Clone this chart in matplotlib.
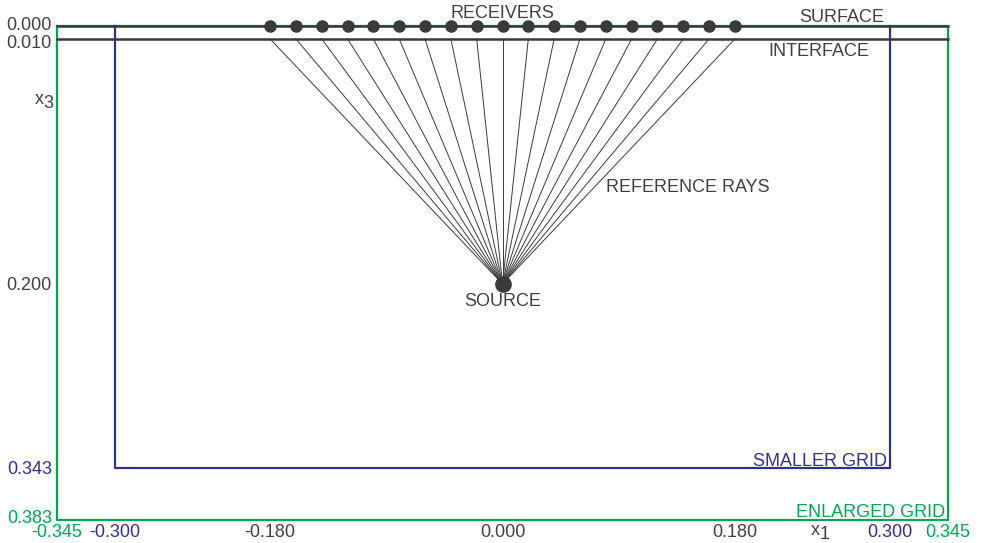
import numpy as np
import matplotlib
matplotlib.use('Agg')
import matplotlib.pyplot as plt

plt.rcParams['font.family'] = ['Liberation Sans', 'DejaVu Sans']

# model geometry (km)
surface_z = 0.000
interface_z = 0.010
receivers_x = [-0.18, -0.16, -0.14, -0.12, -0.10, -0.08, -0.06, -0.04, -0.02, 0.00,
               0.02, 0.04, 0.06, 0.08, 0.10, 0.12, 0.14, 0.16, 0.18]
source_xz = (0.000, 0.200)
small_grid = (-0.300, 0.300, 0.343)
large_grid = (-0.345, 0.345, 0.383)

x_ticks = [-0.345, -0.300, -0.180, 0.000, 0.180, 0.300, 0.345]
x_tick_labels = ['-0.345', '-0.300', '-0.180', '0.000', '0.180', '0.300', '0.345']
z_ticks = [0.000, 0.010, 0.200, 0.343, 0.383]
z_tick_labels = ['0.000', '0.010', '0.200', '0.343', '0.383']

GREEN = '#00a651'
BLUE = '#2e3192'
DARK = '#3a3a3c'
TXT = '#404040'


def tick_color(v):
    if abs(abs(v) - 0.345) < 1e-6 or abs(v - 0.383) < 1e-6:
        return GREEN
    if abs(abs(v) - 0.300) < 1e-6 or abs(v - 0.343) < 1e-6:
        return BLUE
    return TXT


fig = plt.figure(figsize=(9.82, 5.43), dpi=100)
ax = fig.add_axes([57 / 982, 1 - 520 / 543, 891 / 982, 494 / 543])
ax.set_xlim(large_grid[0], large_grid[1])
ax.set_ylim(large_grid[2], 0)
ax.axis('off')

# enlarged grid (green)
x0, x1, zb = large_grid
ax.plot([x0, x0, x1, x1, x0], [0, zb, zb, 0, 0], color=GREEN, lw=1.6, clip_on=False, zorder=1)
# smaller grid (blue)
x0, x1, zb = small_grid
ax.plot([x0, x0, x1, x1], [0, zb, zb, 0], color=BLUE, lw=1.6, clip_on=False, zorder=2)

# surface and interface
ax.plot([large_grid[0], large_grid[1]], [surface_z, surface_z], color=DARK, lw=1.8, clip_on=False, zorder=3)
ax.plot([large_grid[0], large_grid[1]], [interface_z, interface_z], color=DARK, lw=1.8, clip_on=False, zorder=3)

# rays
for rx in receivers_x:
    ax.plot([rx, source_xz[0]], [interface_z, source_xz[1]], color=DARK, lw=0.7, zorder=4)

ax.plot(receivers_x, [surface_z] * len(receivers_x), 'o', color=DARK, ms=8, clip_on=False, zorder=5)
ax.plot(*source_xz, 'o', color=DARK, ms=11, zorder=5)

fs = 13
dz = 0.0015  # visual centring of capitals/digits
ax.text(0.0, -0.011 + dz, 'RECEIVERS', ha='center', va='center', fontsize=fs, color=TXT)
ax.text(0.263, -0.008 + dz, 'SURFACE', ha='center', va='center', fontsize=fs, color=TXT)
ax.text(0.245, 0.018 + dz, 'INTERFACE', ha='center', va='center', fontsize=fs, color=TXT)
ax.text(0.1437, 0.124 + dz, 'REFERENCE RAYS', ha='center', va='center', fontsize=fs, color=TXT)
ax.text(0.0, 0.212 + dz, 'SOURCE', ha='center', va='center', fontsize=fs, color=TXT)
ax.text(0.298, 0.336 + dz, 'SMALLER GRID', ha='right', va='center', fontsize=fs, color=BLUE)
ax.text(0.343, 0.376 + dz, 'ENLARGED GRID', ha='right', va='center', fontsize=fs, color=GREEN)

# tick labels
for v, lab in zip(x_ticks, x_tick_labels):
    ax.text(v, 0.391 + dz, lab, ha='center', va='center', fontsize=fs, color=tick_color(v), clip_on=False)
z_pos = [-0.0015, 0.012, 0.2, 0.3425, 0.3806]
for v, zp, lab in zip(z_ticks, z_pos, z_tick_labels):
    ax.text(-0.349, zp + dz, lab, ha='right', va='center', fontsize=fs, color=tick_color(v), clip_on=False)

# axis names: x with a large subscript
ax.text(-0.3555, 0.0555 + dz, 'x', ha='right', va='center', fontsize=fs, color=TXT, clip_on=False)
ax.text(-0.3555, 0.0585 + dz, '3', ha='left', va='center', fontsize=fs, color=TXT, clip_on=False)
ax.text(0.2455, 0.3895 + dz, 'x', ha='right', va='center', fontsize=fs, color=TXT, clip_on=False)
ax.text(0.2455, 0.3925 + dz, '1', ha='left', va='center', fontsize=fs, color=TXT, clip_on=False)

fig.savefig('out.png', dpi=100)
